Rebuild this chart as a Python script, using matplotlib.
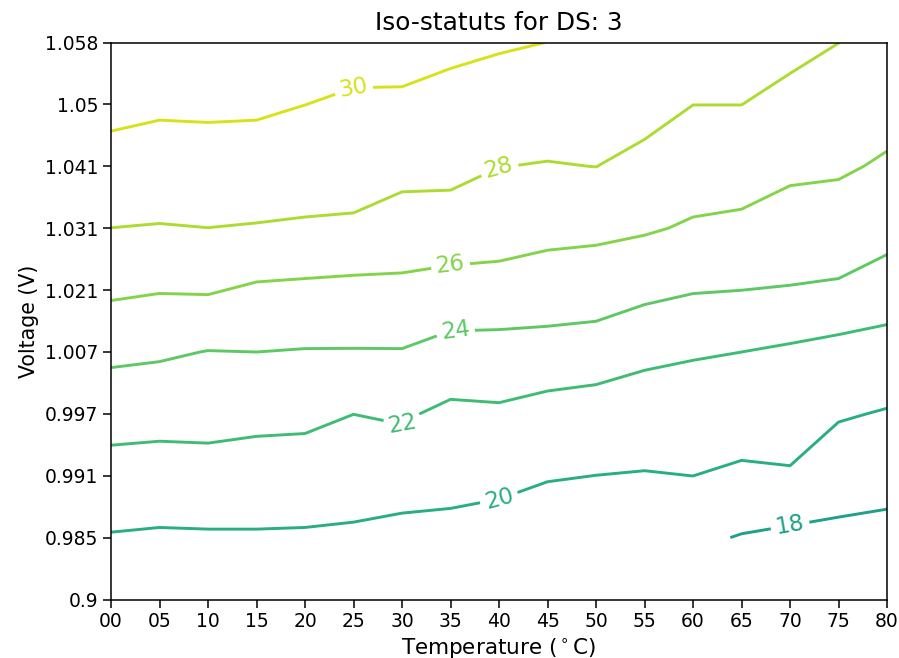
import numpy as np
import matplotlib
matplotlib.use("Agg")
import matplotlib.pyplot as plt

nan = np.nan

# Tick labels (categorical axes)
temperatures = ["00", "05", "10", "15", "20", "25", "30", "35", "40",
                "45", "50", "55", "60", "65", "70", "75", "80"]
voltages = ["0.9", "0.985", "0.991", "0.997", "1.007", "1.021",
            "1.031", "1.041", "1.05", "1.058"]

# Iso-status values per voltage row (columns follow temperatures)
row_0900 = [nan] * 17
row_0985 = [19.878, 19.769, 19.798, 19.821, 19.788, 19.713, 19.448, 19.419, 19.177,
            18.8, 18.64, 18.667, 18.35, 17.895, 17.555, 17.624, 17.404]
row_0991 = [21.268, 21.179, 21.271, 21.127, 21.080, 20.861, 20.843, 20.65, 20.5,
            20.129, 19.99, 19.9, 20.006, 19.589, 19.836, 18.76, 18.7]
row_0997 = [22.753, 22.652, 22.655, 22.499, 22.429, 22.009, 22.237, 21.586, 21.733,
            21.286, 21.3, 21.135, 21.0, 21.246, 20.85, 20.19, 19.862]
row_1007 = [24.422, 24.250, 23.952, 24.002, 23.909, 23.908, 23.908, 23.356, 23.216,
            23.222, 22.783, 22.365, 22.156, 22.001, 21.711, 21.378, 21.395]
row_1021 = [26.321, 26.101, 26.163, 25.714, 25.591, 25.475, 25.615, 25.25, 25.389,
            25.096, 25.237, 24.502, 24.111, 24.006, 23.85, 23.6, 22.764]
row_1031 = [27.992, 27.91, 27.991, 27.898, 27.791, 27.672, 27.005, 27.124, 26.7,
            26.5, 26.291, 26.193, 25.8, 25.6, 25.77, 25.75, 24.917]
row_1041 = [29.273, 29.1, 29.168, 29.1, 28.95, 29.0, 28.7, 28.55, 28.0265,
            27.912, 28.017, 27.4, 26.911, 26.903, 26.105, 26.068, 25.937]
row_1050 = [30.553, 30.307, 30.343, 30.307, 30.01, 29.75, 29.65, 29.4, 29.15,
            28.97, 28.9, 28.782, 28.01, 28.01, 27.45, 27.1, 26.194]
row_1058 = [31.833, 31.501, 31.517, 31.51, 31.2, 30.676, 30.878, 30.434, 30.187,
            29.99, 29.6, 29.3, 29.0, 29.0, 28.55, 28.01, 27.2]

levels = [18, 20, 22, 24, 26, 28, 30]

Z = np.array([row_0900, row_0985, row_0991, row_0997, row_1007,
              row_1021, row_1031, row_1041, row_1050, row_1058])
xs = np.arange(len(temperatures))
ys = np.arange(len(voltages))

fig = plt.figure(figsize=(8.99, 6.58), dpi=100)
ax = fig.add_axes([0.1235, 0.0889, 0.8632, 0.8465])

cs = ax.contour(xs, ys, Z, levels=levels, cmap="viridis", vmin=0, vmax=32,
                linewidths=2.1)
label_spots = [(14.0, 1.2), (8.0, 1.63), (6.0, 2.85), (7.1, 4.35),
               (7.0, 5.4), (8.0, 6.98), (5.0, 8.27)]
ax.clabel(cs, fmt="%d", fontsize=16.5, inline=True, manual=label_spots)

ax.set_xlim(0, len(temperatures) - 1)
ax.set_ylim(0, len(voltages) - 1)
ax.set_xticks(xs)
ax.set_xticklabels(temperatures)
ax.set_yticks(ys)
ax.set_yticklabels(voltages)
ax.tick_params(labelsize=13.5, length=5.5, width=1.1)
for s in ax.spines.values():
    s.set_linewidth(1.1)

ax.set_title("Iso-statuts for DS: 3", fontsize=17.8, pad=9)
ax.set_xlabel("Temperature ($^\\circ$C)", fontsize=15.5)
ax.set_ylabel("Voltage (V)", fontsize=14.8)

fig.savefig("out.png", dpi=100)
